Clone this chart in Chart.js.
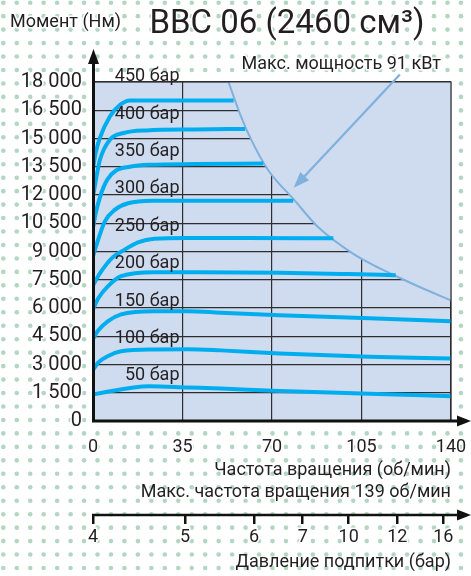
<!DOCTYPE html>
<html>
<head>
<meta charset="utf-8">
<script src="https://cdn.jsdelivr.net/npm/chart.js@4.4.1/dist/chart.umd.min.js"></script>
<style>
  body { margin: 0; background: #fff; }
  canvas { display: block; }
</style>
</head>
<body>
<canvas id="torqueChart" width="471" height="576"></canvas>
<script>
// axes
const rpmTicks = [0, 35, 70, 105, 140];
const torqueStep = 1500;
const torqueMax = 18000;
// charge pressure axis: rpm position of each tick and its label
const chargeRpm = [0, 36, 63, 82, 100, 119, 137];
const chargeBar = [4, 5, 6, 7, 10, 12, 16];

// torque curves per working pressure (rpm / Nm)
const pressures = [50, 100, 150, 200, 250, 300, 350, 400, 450];
const rpm50 = [0, 22, 37, 50, 73, 108, 140];
const nm50 = [1420, 1850, 1780, 1720, 1590, 1450, 1320];
const rpm100 = [0, 2, 5.9, 11, 24, 37, 50, 73, 108, 140];
const nm100 = [2700, 3100, 3450, 3700, 3800, 3810, 3750, 3590, 3415, 3320];
const rpm150 = [0, 2, 5.9, 11, 24, 37, 50, 73, 108, 140];
const nm150 = [4370, 4800, 5300, 5660, 5830, 5830, 5750, 5620, 5450, 5300];
const rpm200 = [0, 2, 5.9, 11, 24, 41, 73, 100, 118.4];
const nm200 = [5920, 6500, 7160, 7690, 7900, 7900, 7870, 7800, 7740];
const rpm250 = [0, 3, 7.8, 12.4, 17.6, 24, 37, 60, 94];
const nm250 = [7200, 7900, 8700, 9100, 9490, 9680, 9720, 9720, 9700];
const rpm300 = [0, 1, 4.6, 8.5, 13.7, 24, 40, 78.3];
const nm300 = [8750, 9200, 10590, 11210, 11560, 11690, 11700, 11700];
const rpm350 = [0, 1, 3, 5.5, 9, 14.5, 22, 40, 66.6];
const nm350 = [10250, 11000, 12000, 12800, 13300, 13500, 13600, 13640, 13670];
const rpm400 = [0, 1, 2.7, 6.6, 12, 21, 40, 59.5];
const nm400 = [11900, 12700, 13870, 14940, 15290, 15430, 15480, 15510];
const rpm450 = [0, 1, 2.7, 6.6, 10.6, 14.5, 30, 55];
const nm450 = [13400, 14200, 15030, 16170, 16790, 17020, 17020, 17020];
// where each "xxx бар" label sits (Nm)
const labelNm = [2400, 4380, 6360, 8360, 10340, 12340, 14290, 16260, 18300];

// max power 91 kW limit
const powerRpm = [53, 57.5, 62, 68.6, 78.6, 88, 101.5, 110, 118.4, 128, 140];
const powerNm = [18000, 16300, 14900, 13300, 11750, 10300, 8900, 8250, 7700, 7100, 6400];
// annotation arrow: from label to the curve
const arrowFrom = [120, 18400];
const arrowTo = [78.5, 12380];

const curveRpm = [rpm50, rpm100, rpm150, rpm200, rpm250, rpm300, rpm350, rpm400, rpm450];
const curveNm = [nm50, nm100, nm150, nm200, nm250, nm300, nm350, nm400, nm450];

const FONT = "Roboto, 'Liberation Sans', sans-serif";
const TXT = '#231f20';
const PLOT_BG = '#cfdbef';
const GRID = '#2e2e2e';

const toPts = (xs, ys) => xs.map((x, i) => ({ x: x, y: ys[i] }));

const datasets = pressures.map((p, i) => ({
  label: p + ' бар',
  data: toPts(curveRpm[i], curveNm[i]),
  borderColor: '#00aeef',
  borderWidth: 4,
  pointRadius: 0,
  cubicInterpolationMode: 'monotone',
  fill: false
}));
datasets.push({
  label: 'Макс. мощность',
  data: toPts(powerRpm, powerNm),
  borderColor: '#7eb1dd',
  borderWidth: 2,
  pointRadius: 0,
  cubicInterpolationMode: 'monotone',
  fill: 'end',
  backgroundColor: PLOT_BG
});

function arrowHead(ctx, x1, y1, x2, y2, len, half) {
  const a = Math.atan2(y2 - y1, x2 - x1);
  ctx.beginPath();
  ctx.moveTo(x2, y2);
  ctx.lineTo(x2 - len * Math.cos(a) + half * Math.sin(a), y2 - len * Math.sin(a) - half * Math.cos(a));
  ctx.lineTo(x2 - len * Math.cos(a) - half * Math.sin(a), y2 - len * Math.sin(a) + half * Math.cos(a));
  ctx.closePath();
  ctx.fill();
}

function haloText(ctx, text, x, y) {
  ctx.strokeStyle = '#fff';
  ctx.lineWidth = 3;
  ctx.lineJoin = 'round';
  ctx.strokeText(text, x, y);
  ctx.fillText(text, x, y);
}

// keep the plot edges where they are, labels may overhang
const noSidePad = s => { s.paddingLeft = 0; s.paddingRight = 0; };

const deco = {
  id: 'deco',
  beforeDraw(chart) {
    const { ctx, chartArea: a, width, height } = chart;
    ctx.save();
    ctx.fillStyle = '#fff';
    ctx.fillRect(0, 0, width, height);
    ctx.fillStyle = '#b3d6c2';
    const step = 13.46;
    for (let y = 2.7; y < height + 3; y += step) {
      for (let x = 3.3; x < width + 3; x += step) {
        ctx.beginPath();
        ctx.arc(x, y, 2.3, 0, Math.PI * 2);
        ctx.fill();
      }
    }
    ctx.fillStyle = PLOT_BG;
    ctx.fillRect(a.left, a.top, a.right - a.left, a.bottom - a.top);
    ctx.restore();
  },
  afterDatasetsDraw(chart) {
    const { ctx, chartArea: a, scales, width } = chart;
    const x = scales.x, y = scales.y, x2 = scales.x2;
    ctx.save();
    // frame top / right
    ctx.strokeStyle = GRID;
    ctx.lineWidth = 1.2;
    ctx.beginPath();
    ctx.moveTo(a.left, a.top);
    ctx.lineTo(a.right, a.top);
    ctx.lineTo(a.right, a.bottom);
    ctx.stroke();

    // main axes with arrows
    ctx.strokeStyle = '#111';
    ctx.fillStyle = '#111';
    ctx.lineWidth = 3;
    ctx.beginPath();
    ctx.moveTo(a.left + 0.5, a.bottom + 1);
    ctx.lineTo(a.left + 0.5, a.top - 18);
    ctx.stroke();
    arrowHead(ctx, a.left + 0.5, a.top, a.left + 0.5, a.top - 33, 15, 5.5);
    ctx.beginPath();
    ctx.moveTo(a.left - 1, a.bottom);
    ctx.lineTo(width - 12, a.bottom);
    ctx.stroke();
    arrowHead(ctx, a.left, a.bottom, width, a.bottom, 14, 5.5);
    // charge pressure axis line
    ctx.lineWidth = 2.5;
    ctx.beginPath();
    ctx.moveTo(a.left - 1, x2.top);
    ctx.lineTo(width - 12, x2.top);
    ctx.stroke();
    arrowHead(ctx, a.left, x2.top, width, x2.top, 14, 5.5);

    // power annotation arrow
    const fx = x.getPixelForValue(arrowFrom[0]), fy = y.getPixelForValue(arrowFrom[1]);
    const tx = x.getPixelForValue(arrowTo[0]), ty = y.getPixelForValue(arrowTo[1]);
    ctx.strokeStyle = '#7eb1dd';
    ctx.fillStyle = '#7eb1dd';
    ctx.lineWidth = 2.2;
    const ang = Math.atan2(ty - fy, tx - fx);
    ctx.beginPath();
    ctx.moveTo(fx, fy);
    ctx.lineTo(tx - 10 * Math.cos(ang), ty - 10 * Math.sin(ang));
    ctx.stroke();
    arrowHead(ctx, fx, fy, tx, ty, 16, 6);

    // curve labels
    ctx.fillStyle = TXT;
    ctx.font = '18px ' + FONT;
    ctx.textAlign = 'right';
    ctx.textBaseline = 'middle';
    const lx = x.getPixelForValue(35) - 3;
    pressures.forEach((p, i) => {
      ctx.fillText(p + ' бар', lx, y.getPixelForValue(labelNm[i]));
    });

    // header texts
    ctx.textAlign = 'left';
    ctx.font = '18px ' + FONT;
    haloText(ctx, 'Момент (Нм)', 10, 22);
    ctx.textAlign = 'center';
    ctx.font = '33px ' + FONT;
    haloText(ctx, 'BBC 06 (2460 см³)', 287, 25);
    ctx.textAlign = 'right';
    ctx.font = '18px ' + FONT;
    haloText(ctx, 'Макс. мощность 91 кВт', 441, 64);
    ctx.restore();
  }
};

new Chart(document.getElementById('torqueChart'), {
  type: 'line',
  data: { datasets: datasets },
  plugins: [deco],
  options: {
    responsive: false,
    animation: false,
    layout: { padding: { top: 82, right: 20, left: 0, bottom: 0 } },
    plugins: {
      legend: { display: false },
      tooltip: { enabled: false }
    },
    scales: {
      x: {
        type: 'linear',
        min: 0,
        max: 140,
        afterFit: s => { s.height = 94; noSidePad(s); },
        afterBuildTicks: s => { s.ticks = rpmTicks.map(v => ({ value: v })); },
        grid: { color: GRID, lineWidth: 1.2, drawTicks: false },
        border: { display: false },
        ticks: {
          color: TXT,
          font: { family: FONT, size: 18 },
          padding: 16,
          textStrokeColor: '#fff',
          textStrokeWidth: 3
        },
        title: {
          display: true,
          text: ['Частота вращения (об/мин)', 'Макс. частота вращения 139 об/мин'],
          align: 'end',
          color: TXT,
          font: { family: FONT, size: 18, lineHeight: 1.2 },
          padding: { top: 0, bottom: 12 }
        }
      },
      x2: {
        type: 'linear',
        position: 'bottom',
        weight: 1,
        min: 0,
        max: 140,
        afterFit: s => { s.height = 61; noSidePad(s); },
        afterBuildTicks: s => { s.ticks = chargeRpm.map(v => ({ value: v })); },
        grid: { drawOnChartArea: false, drawTicks: true, tickLength: 9, color: '#111', lineWidth: 2.5 },
        border: { display: false },
        ticks: {
          color: TXT,
          font: { family: FONT, size: 18 },
          padding: 3,
          autoSkip: false,
          callback: (v, i) => chargeBar[i],
          textStrokeColor: '#fff',
          textStrokeWidth: 3
        },
        title: {
          display: true,
          text: 'Давление подпитки (бар)',
          align: 'end',
          color: TXT,
          font: { family: FONT, size: 18, lineHeight: 1.2 },
          padding: { top: 0, bottom: 3 }
        }
      },
      y: {
        type: 'linear',
        min: 0,
        max: torqueMax,
        afterFit: s => { s.width = 93; },
        grid: { color: GRID, lineWidth: 1.2, drawTicks: false },
        border: { display: false },
        ticks: {
          stepSize: torqueStep,
          color: TXT,
          font: { family: FONT, size: 20 },
          padding: 11,
          textStrokeColor: '#fff',
          textStrokeWidth: 3,
          callback: v => v === 0 ? '0' : Math.floor(v / 1000) + ' ' + String(v % 1000).padStart(3, '0')
        }
      }
    }
  }
});
</script>
</body>
</html>
